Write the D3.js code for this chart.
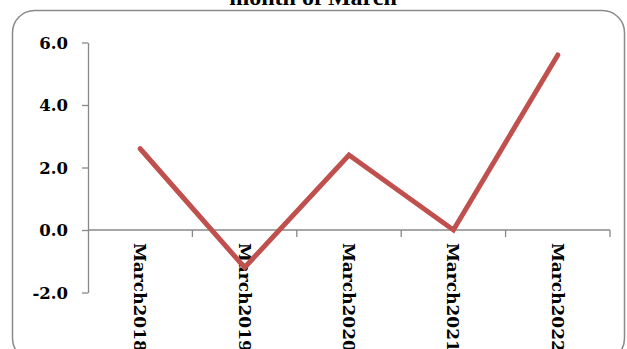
<!DOCTYPE html>
<html><head><meta charset="utf-8">
<script src="https://cdn.jsdelivr.net/npm/d3@7"></script>
<style>
html,body{margin:0;padding:0;background:#fff;}
svg{display:block;}
</style></head>
<body>
<svg id="chart" width="627" height="349"></svg>
<script>
const categories = ["March2018","March2019","March2020","March2021","March2022"];
const values = [2.6, -1.2, 2.4, 0.0, 5.6];
const yTicks = [-2, 0, 2, 4, 6];
const title = "month of March";

const svg = d3.select("#chart");

// outer rounded border
svg.append("rect")
  .attr("x", 12.5).attr("y", 10.5)
  .attr("width", 612).attr("height", 350)
  .attr("rx", 22).attr("ry", 22)
  .attr("fill", "none").attr("stroke", "#8a8a8a").attr("stroke-width", 1.5);

// title (mostly cut off at top)
svg.append("text")
  .attr("x", 313).attr("y", 4.5)
  .attr("text-anchor", "middle")
  .attr("font-family", "Liberation Serif, Times New Roman, serif")
  .attr("font-weight", "bold").attr("font-size", 24)
  .attr("fill", "#000")
  .text(title);

const x = d3.scaleBand().domain(categories).range([88, 610]).padding(0);
const y = d3.scaleLinear().domain([-2, 6]).range([292.5, 42.5]);

const axisColor = "#888";
const fontFam = "DejaVu Serif, serif";

// y axis
const yAxis = svg.append("g")
  .attr("transform", "translate(88,0)")
  .call(d3.axisLeft(y).tickValues(yTicks).tickFormat(d => d.toFixed(1)).tickSize(6).tickSizeOuter(0).tickPadding(14));
yAxis.select(".domain").attr("stroke", axisColor).attr("stroke-width", 1.3);
yAxis.selectAll(".tick line").attr("stroke", axisColor).attr("stroke-width", 1.3);
yAxis.selectAll(".tick text")
  .attr("font-family", fontFam).attr("font-weight", "bold").attr("font-size", 16.5)
  .attr("fill", "#000").attr("dy", "0.35em");

// x axis at zero
const x0 = y(0);
svg.append("line")
  .attr("x1", x.range()[0]).attr("x2", x.range()[1])
  .attr("y1", x0).attr("y2", x0)
  .attr("stroke", axisColor).attr("stroke-width", 1.3);
svg.selectAll(".xtick").data(categories).enter().append("line")
  .attr("class", "xtick")
  .attr("x1", d => x(d) + x.bandwidth()).attr("x2", d => x(d) + x.bandwidth())
  .attr("y1", x0).attr("y2", x0 + 7)
  .attr("stroke", axisColor).attr("stroke-width", 1.3);

// x labels rotated
svg.selectAll(".xlabel").data(categories).enter().append("text")
  .attr("class", "xlabel")
  .attr("transform", d => `translate(${x(d) + x.bandwidth() / 2},${x0 + 13}) rotate(90)`)
  .attr("text-anchor", "start")
  .attr("dy", "0.35em")
  .attr("font-family", fontFam).attr("font-weight", "bold").attr("font-size", 17)
  .attr("fill", "#000")
  .text(d => d);

// line
const line = d3.line()
  .x((d, i) => x(categories[i]) + x.bandwidth() / 2)
  .y(d => y(d));
svg.append("path")
  .datum(values)
  .attr("d", line)
  .attr("fill", "none")
  .attr("stroke", "#C0504D")
  .attr("stroke-width", 5)
  .attr("stroke-linecap", "round")
  .attr("stroke-linejoin", "miter");
</script>
</body></html>
